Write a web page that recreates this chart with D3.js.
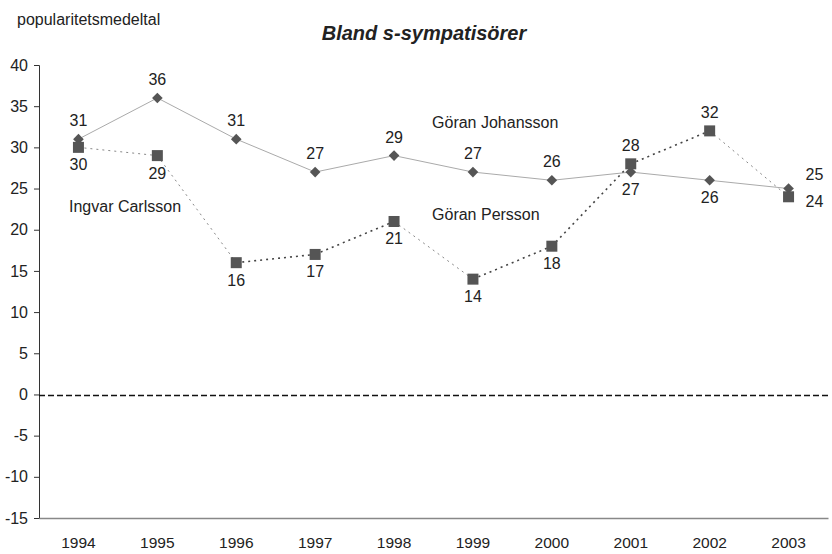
<!DOCTYPE html>
<html>
<head>
<meta charset="utf-8">
<script src="https://cdn.jsdelivr.net/npm/d3@7"></script>
<style>
  body { margin: 0; background: #fff; }
  text { font-family: "Liberation Sans", Arial, sans-serif; fill: #222; }
</style>
</head>
<body>
<svg id="chart" width="832" height="554"></svg>
<script>
var years = ["1994", "1995", "1996", "1997", "1998", "1999", "2000", "2001", "2002", "2003"];
var johansson = [31, 36, 31, 27, 29, 27, 26, 27, 26, 25];
var persson = [30, 29, 16, 17, 21, 14, 18, 28, 32, 24];
var yTicks = [40, 35, 30, 25, 20, 15, 10, 5, 0, -5, -10, -15];
// label placement per point: "a" above, "b" below, "r" right
var johanssonPos = ["a", "a", "a", "a", "a", "a", "a", "b", "b", "r"];
var perssonPos = ["b", "b", "b", "b", "b", "b", "b", "a", "a", "r"];

var svg = d3.select("#chart"),
    margin = {top: 65, right: 4, bottom: 36, left: 39},
    width = 832 - margin.left - margin.right,
    height = 554 - margin.top - margin.bottom;

var x = d3.scaleBand().domain(years).range([0, width]),
    y = d3.scaleLinear().domain([-15, 40]).range([height, 0]);

var g = svg.append("g")
    .attr("transform", "translate(" + margin.left + "," + margin.top + ")");

var cx = function (i) { return x(years[i]) + x.bandwidth() / 2; };

// titles
svg.append("text").attr("x", 17).attr("y", 25)
    .style("font-size", "16px").text("popularitetsmedeltal");
svg.append("text").attr("x", 424).attr("y", 40)
    .style("text-anchor", "middle").style("font-size", "20px")
    .style("font-weight", "bold").style("font-style", "italic")
    .text("Bland s-sympatisörer");

// y axis
var yAxis = g.append("g")
    .call(d3.axisLeft(y).tickValues(yTicks).tickSize(5).tickPadding(6)
        .tickFormat(function (d) { return String(d); }));
yAxis.select(".domain").attr("stroke", "#333");
yAxis.selectAll(".tick line").attr("stroke", "#333");
yAxis.selectAll("text").style("font-size", "16px").attr("fill", "#222");

// x axis
var xAxis = g.append("g")
    .attr("transform", "translate(0," + height + ")")
    .call(d3.axisBottom(x).tickSize(0).tickPadding(19));
xAxis.select(".domain").attr("stroke", "#888").attr("stroke-width", 1.5);
xAxis.selectAll("text").style("font-size", "15.5px").attr("fill", "#222");

// zero line
g.append("line")
    .attr("x1", 0).attr("x2", width)
    .attr("y1", y(0) + 1).attr("y2", y(0) + 1)
    .attr("stroke", "#111").attr("stroke-width", 1.5)
    .attr("stroke-dasharray", "6,3");

// Johansson line
var line = d3.line().x(function (d, i) { return cx(i); }).y(function (d) { return y(d); });
g.append("path").datum(johansson)
    .attr("fill", "none").attr("stroke", "#aaa").attr("stroke-width", 1)
    .attr("d", line);

// Carlsson / Persson dotted segments
var segs = d3.pairs(persson.map(function (d, i) { return [cx(i), y(d)]; }));
g.selectAll(".seg").data(segs).join("line")
    .attr("class", "seg")
    .attr("x1", function (d) { return d[0][0]; }).attr("y1", function (d) { return d[0][1]; })
    .attr("x2", function (d) { return d[1][0]; }).attr("y2", function (d) { return d[1][1]; })
    .attr("stroke", function (d) { return d[1][1] > d[0][1] + 5 ? "#888" : "#444"; })
    .attr("stroke-width", function (d) { return d[1][1] > d[0][1] + 5 ? 1 : 1.6; })
    .attr("stroke-dasharray", "2,4");

// markers
var diamond = d3.symbol().type(d3.symbolDiamond2).size(72);
g.selectAll(".dia").data(johansson).join("path")
    .attr("class", "dia")
    .attr("transform", function (d, i) { return "translate(" + cx(i) + "," + y(d) + ")"; })
    .attr("d", diamond).attr("fill", "#555");

g.selectAll(".sq").data(persson).join("rect")
    .attr("class", "sq")
    .attr("x", function (d, i) { return cx(i) - 5.5; })
    .attr("y", function (d) { return y(d) - 5.5; })
    .attr("width", 11).attr("height", 11).attr("fill", "#555");

// value labels
function labels(data, pos, cls) {
    g.selectAll("." + cls).data(data).join("text")
        .attr("class", cls)
        .style("font-size", "16px")
        .style("text-anchor", function (d, i) { return pos[i] === "r" ? "start" : "middle"; })
        .attr("x", function (d, i) { return pos[i] === "r" ? cx(i) + 17 : cx(i); })
        .attr("y", function (d, i) {
            if (pos[i] === "a") return y(d) - 13;
            if (pos[i] === "b") return y(d) + 23;
            return cls === "jl" ? y(d) - 9 : y(d) + 10;
        })
        .text(function (d) { return d; });
}
labels(johansson, johanssonPos, "jl");
labels(persson, perssonPos, "pl");

// series names
g.append("text").attr("x", cx(4) + 38).attr("y", y(32.4)).style("font-size", "16px").text("Göran Johansson");
g.append("text").attr("x", 30).attr("y", y(22.2)).style("font-size", "16px").text("Ingvar Carlsson");
g.append("text").attr("x", cx(4) + 38).attr("y", y(21.2)).style("font-size", "16px").text("Göran Persson");
</script>
</body>
</html>
